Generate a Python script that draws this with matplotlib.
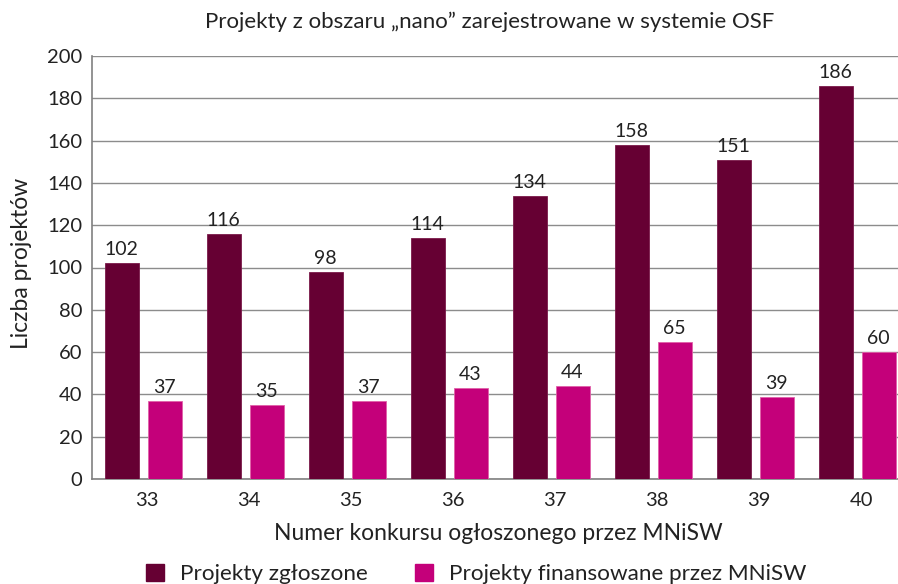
"""
Projekty z obszaru nano - wykres słupkowy.
"""
import numpy as np
import matplotlib

matplotlib.use("Agg")
import matplotlib.pyplot as plt
from matplotlib.patches import Patch

konkursy = ["33", "34", "35", "36", "37", "38", "39", "40"]
zgloszone = [102, 116, 98, 114, 134, 158, 151, 186]
finansowane = [37, 35, 37, 43, 44, 65, 39, 60]

plt.rcParams["font.family"] = ["Lato", "DejaVu Sans"]

DARK = "#660033"
PINK = "#C4007A"
TXT = "#222222"

fig = plt.figure(figsize=(8.98, 5.84), dpi=100, facecolor="white")
# plot area runs past the right edge, as in the source image
ax = fig.add_axes([92 / 898, 105 / 584, 816 / 898, 423 / 584])

x = np.arange(len(konkursy))
w = 34 / 102
off = 21.5 / 102
b1 = ax.bar(x - off, zgloszone, w, color=DARK, edgecolor="#7a1a4a", linewidth=0.6, zorder=3)
b2 = ax.bar(x + off, finansowane, w, color=PINK, edgecolor="#e060a8", linewidth=0.6, zorder=3)

for bars, vals in ((b1, zgloszone), (b2, finansowane)):
    for r, v in zip(bars, vals):
        ax.annotate(str(v), xy=(r.get_x() + r.get_width() / 2, v), xytext=(0, 3.5),
                    textcoords="offset points", ha="center", va="bottom",
                    fontsize=14, color=TXT, zorder=4)

ax.set_xlim(-0.5, len(konkursy) - 0.5)
ax.set_ylim(0, 200)
ax.set_yticks(np.arange(0, 201, 20))
ax.set_xticks(x + 0.04)
ax.set_xticklabels(konkursy)
ax.tick_params(axis="both", length=0, labelsize=14.5, labelcolor=TXT)
ax.tick_params(axis="x", pad=9)
ax.tick_params(axis="y", pad=7)
ax.grid(axis="y", color="#8c8c8c", linewidth=1.0, zorder=0)
ax.set_axisbelow(True)
for s in ("top", "right"):
    ax.spines[s].set_visible(False)
for s in ("left", "bottom"):
    ax.spines[s].set_color("#808080")
    ax.spines[s].set_linewidth(1.2)

fig.text(490 / 898, 1 - 22 / 584, "Projekty z obszaru \u201enano\u201d zarejestrowane w systemie OSF",
         ha="center", va="center", fontsize=16, color=TXT)
fig.text(22 / 898, 1 - 263 / 584, "Liczba projektów", rotation=90,
         ha="center", va="center", fontsize=16.5, color=TXT)
fig.text(498 / 898, 1 - 533 / 584, "Numer konkursu ogłoszonego przez MNiSW",
         ha="center", va="center", fontsize=16.5, color=TXT)

handles = [Patch(color=DARK), Patch(color=PINK)]
fig.legend(handles, ["Projekty zgłoszone", "Projekty finansowane przez MNiSW"],
           loc="center", bbox_to_anchor=(476 / 898, 1 - 574 / 584), ncol=2,
           frameon=False, fontsize=16.2, handlelength=0.8, handleheight=0.8,
           handletextpad=0.7, columnspacing=2.1, labelcolor=TXT)

fig.savefig("out.png", dpi=100, facecolor="white")
